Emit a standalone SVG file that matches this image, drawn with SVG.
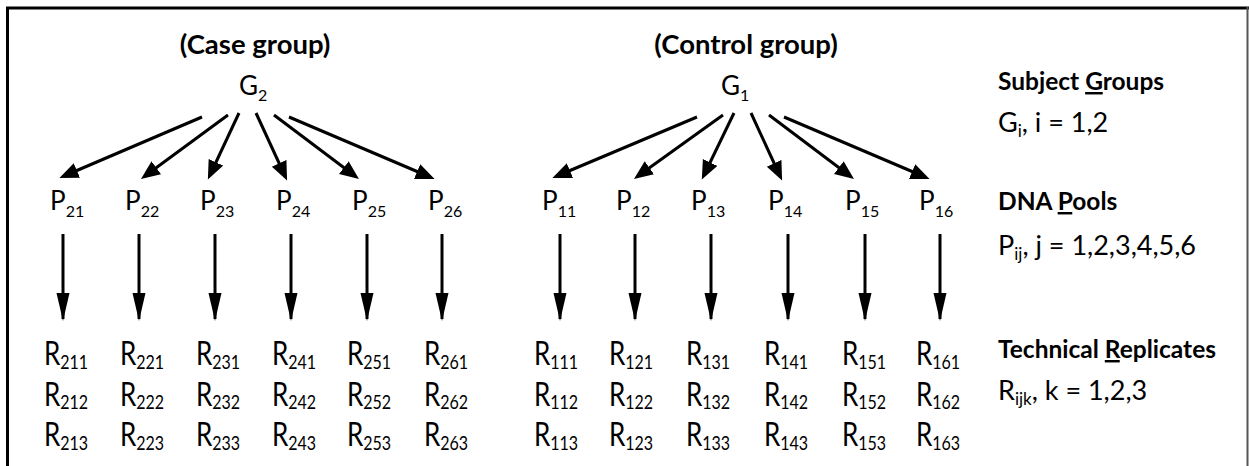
<svg xmlns="http://www.w3.org/2000/svg" width="1249" height="466" viewBox="0 0 1249 466">
<style>
text{font-family:Lato,"Open Sans","Liberation Sans",sans-serif;fill:#000}
.h{font-weight:bold;font-size:27.5px;text-anchor:middle}
.g{font-size:26px}
.p{font-size:26px}
.s{font-size:16px}
.r{font-size:26px}
.lb{font-weight:bold;font-size:24.5px}
.lr{font-size:27px}
.ls{font-size:17px}
.ln{stroke:#000;stroke-width:3;fill:none}
</style>
<defs>
<marker id="ah" markerUnits="userSpaceOnUse" markerWidth="20" markerHeight="18" refX="14" refY="8" orient="auto"><path d="M0,0 L19,8 L0,16 z" fill="#000"/></marker>
<marker id="av" markerUnits="userSpaceOnUse" markerWidth="30" markerHeight="14" refX="26" refY="6.5" orient="auto"><path d="M0,0 L28,6.5 L0,13 z" fill="#000"/></marker>
</defs>
<rect width="1249" height="466" fill="#fff"/>
<g id="frame">
<line x1="6" y1="8" x2="1249" y2="8" stroke="#000" stroke-width="3"/>
<line x1="7.5" y1="7" x2="7.5" y2="466" stroke="#000" stroke-width="3"/>
<line x1="1247.5" y1="7" x2="1247.5" y2="466" stroke="#555" stroke-width="2"/>
</g>
<g id="connectors" class="ln">
<line class="ln" x1="202" y1="117" x2="64" y2="176" marker-end="url(#ah)"/>
<line class="ln" x1="228" y1="115" x2="145" y2="176" marker-end="url(#ah)"/>
<line class="ln" x1="239" y1="113" x2="210" y2="175" marker-end="url(#ah)"/>
<line class="ln" x1="256" y1="113" x2="285" y2="176" marker-end="url(#ah)"/>
<line class="ln" x1="274" y1="115" x2="355" y2="176" marker-end="url(#ah)"/>
<line class="ln" x1="289" y1="117" x2="430" y2="177" marker-end="url(#ah)"/>
<line class="ln" x1="697" y1="117" x2="557" y2="176" marker-end="url(#ah)"/>
<line class="ln" x1="723" y1="115" x2="638" y2="176" marker-end="url(#ah)"/>
<line class="ln" x1="734" y1="113" x2="704" y2="175" marker-end="url(#ah)"/>
<line class="ln" x1="751" y1="113" x2="780" y2="176" marker-end="url(#ah)"/>
<line class="ln" x1="769" y1="115" x2="850" y2="176" marker-end="url(#ah)"/>
<line class="ln" x1="784" y1="117" x2="925" y2="177" marker-end="url(#ah)"/>
<line class="ln" x1="63" y1="234" x2="63" y2="319" marker-end="url(#av)"/>
<line class="ln" x1="139" y1="234" x2="139" y2="319" marker-end="url(#av)"/>
<line class="ln" x1="215" y1="234" x2="215" y2="319" marker-end="url(#av)"/>
<line class="ln" x1="291" y1="234" x2="291" y2="319" marker-end="url(#av)"/>
<line class="ln" x1="367" y1="234" x2="367" y2="319" marker-end="url(#av)"/>
<line class="ln" x1="442" y1="234" x2="442" y2="319" marker-end="url(#av)"/>
<line class="ln" x1="560" y1="234" x2="560" y2="319" marker-end="url(#av)"/>
<line class="ln" x1="635" y1="234" x2="635" y2="319" marker-end="url(#av)"/>
<line class="ln" x1="711" y1="234" x2="711" y2="319" marker-end="url(#av)"/>
<line class="ln" x1="788" y1="234" x2="788" y2="319" marker-end="url(#av)"/>
<line class="ln" x1="865" y1="234" x2="865" y2="319" marker-end="url(#av)"/>
<line class="ln" x1="940" y1="234" x2="940" y2="319" marker-end="url(#av)"/>
</g>
<g id="headers">
<text class="h" x="255" y="54">(Case group)</text>
<text class="h" x="746" y="54">(Control group)</text>
</g>
<g id="G2"><text class="g" x="239" y="95">G<tspan class="s" dy="6">2</tspan></text></g>
<g id="G1"><text class="g" x="721" y="95">G<tspan class="s" dy="6">1</tspan></text></g>
<g id="pools">
<text class="p" x="50" y="210">P<tspan class="s" dy="7">21</tspan></text>
<text class="p" x="125" y="210">P<tspan class="s" dy="7">22</tspan></text>
<text class="p" x="200" y="210">P<tspan class="s" dy="7">23</tspan></text>
<text class="p" x="276" y="210">P<tspan class="s" dy="7">24</tspan></text>
<text class="p" x="352" y="210">P<tspan class="s" dy="7">25</tspan></text>
<text class="p" x="428" y="210">P<tspan class="s" dy="7">26</tspan></text>
<text class="p" x="542" y="210">P<tspan class="s" dy="7">11</tspan></text>
<text class="p" x="616" y="210">P<tspan class="s" dy="7">12</tspan></text>
<text class="p" x="691" y="210">P<tspan class="s" dy="7">13</tspan></text>
<text class="p" x="768" y="210">P<tspan class="s" dy="7">14</tspan></text>
<text class="p" x="845" y="210">P<tspan class="s" dy="7">15</tspan></text>
<text class="p" x="919" y="210">P<tspan class="s" dy="7">16</tspan></text>
</g>
<g id="replicates" transform="scale(1,1.25)">
<text class="r" x="44" y="292">R<tspan class="s" dy="3">211</tspan></text>
<text class="r" x="44" y="324.5">R<tspan class="s" dy="3">212</tspan></text>
<text class="r" x="44" y="357">R<tspan class="s" dy="3">213</tspan></text>
<text class="r" x="120" y="292">R<tspan class="s" dy="3">221</tspan></text>
<text class="r" x="120" y="324.5">R<tspan class="s" dy="3">222</tspan></text>
<text class="r" x="120" y="357">R<tspan class="s" dy="3">223</tspan></text>
<text class="r" x="196" y="292">R<tspan class="s" dy="3">231</tspan></text>
<text class="r" x="196" y="324.5">R<tspan class="s" dy="3">232</tspan></text>
<text class="r" x="196" y="357">R<tspan class="s" dy="3">233</tspan></text>
<text class="r" x="272" y="292">R<tspan class="s" dy="3">241</tspan></text>
<text class="r" x="272" y="324.5">R<tspan class="s" dy="3">242</tspan></text>
<text class="r" x="272" y="357">R<tspan class="s" dy="3">243</tspan></text>
<text class="r" x="347" y="292">R<tspan class="s" dy="3">251</tspan></text>
<text class="r" x="347" y="324.5">R<tspan class="s" dy="3">252</tspan></text>
<text class="r" x="347" y="357">R<tspan class="s" dy="3">253</tspan></text>
<text class="r" x="424" y="292">R<tspan class="s" dy="3">261</tspan></text>
<text class="r" x="424" y="324.5">R<tspan class="s" dy="3">262</tspan></text>
<text class="r" x="424" y="357">R<tspan class="s" dy="3">263</tspan></text>
<text class="r" x="534" y="292">R<tspan class="s" dy="3">111</tspan></text>
<text class="r" x="534" y="324.5">R<tspan class="s" dy="3">112</tspan></text>
<text class="r" x="534" y="357">R<tspan class="s" dy="3">113</tspan></text>
<text class="r" x="609" y="292">R<tspan class="s" dy="3">121</tspan></text>
<text class="r" x="609" y="324.5">R<tspan class="s" dy="3">122</tspan></text>
<text class="r" x="609" y="357">R<tspan class="s" dy="3">123</tspan></text>
<text class="r" x="686" y="292">R<tspan class="s" dy="3">131</tspan></text>
<text class="r" x="686" y="324.5">R<tspan class="s" dy="3">132</tspan></text>
<text class="r" x="686" y="357">R<tspan class="s" dy="3">133</tspan></text>
<text class="r" x="764" y="292">R<tspan class="s" dy="3">141</tspan></text>
<text class="r" x="764" y="324.5">R<tspan class="s" dy="3">142</tspan></text>
<text class="r" x="764" y="357">R<tspan class="s" dy="3">143</tspan></text>
<text class="r" x="842" y="292">R<tspan class="s" dy="3">151</tspan></text>
<text class="r" x="842" y="324.5">R<tspan class="s" dy="3">152</tspan></text>
<text class="r" x="842" y="357">R<tspan class="s" dy="3">153</tspan></text>
<text class="r" x="916" y="292">R<tspan class="s" dy="3">161</tspan></text>
<text class="r" x="916" y="324.5">R<tspan class="s" dy="3">162</tspan></text>
<text class="r" x="916" y="357">R<tspan class="s" dy="3">163</tspan></text>
</g>
<g id="legend">
<text class="lb" x="998" y="90">Subject <tspan text-decoration="underline">G</tspan>roups</text>
<text class="lr" x="998" y="132">G<tspan class="ls" dy="5">i</tspan><tspan dy="-5">, i = 1,2</tspan></text>
<text class="lb" x="998" y="210">DNA <tspan text-decoration="underline">P</tspan>ools</text>
<text class="lr" x="998" y="255">P<tspan class="ls" dy="5">ij</tspan><tspan dy="-5">, j = 1,2,3,4,5,6</tspan></text>
<text class="lb" x="998" y="358">Technical <tspan text-decoration="underline">R</tspan>eplicates</text>
<text class="lr" x="998" y="400">R<tspan class="ls" dy="5">ijk</tspan><tspan dy="-5">, k = 1,2,3</tspan></text>
</g>
</svg>
